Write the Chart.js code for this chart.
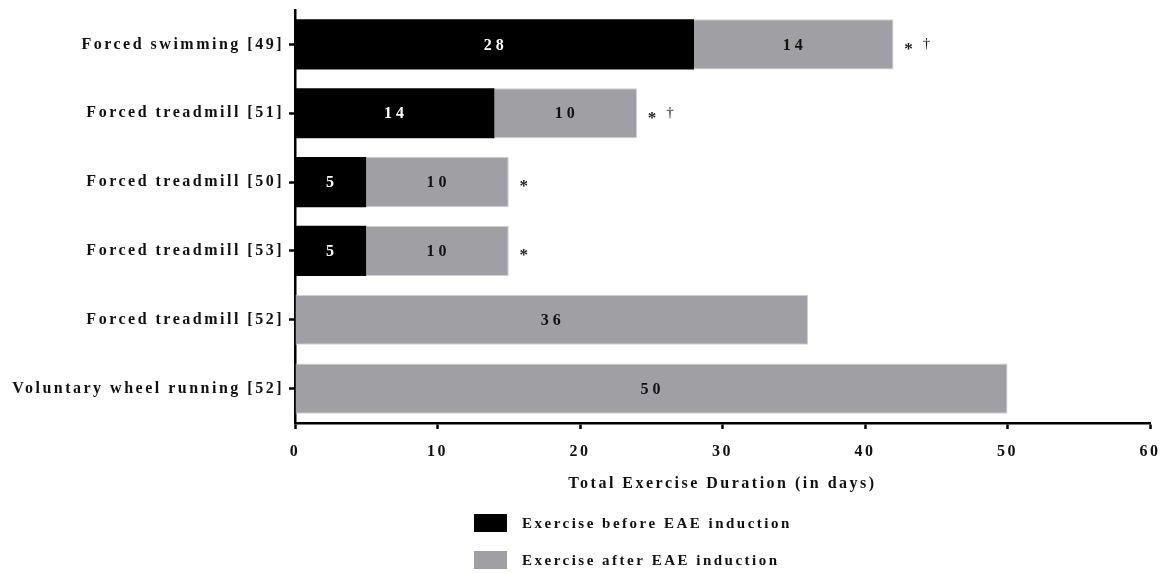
<!DOCTYPE html>
<html>
<head>
<meta charset="utf-8">
<script src="https://cdn.jsdelivr.net/npm/chart.js@4.4.1/dist/chart.umd.min.js"></script>
<style>
  html, body { margin: 0; padding: 0; background: #fff; }
  canvas { display: block; }
</style>
</head>
<body>
<canvas id="durationChart" width="1164" height="573"></canvas>
<script>
// Studies and how long the exercise lasted (days)
const studies = ['Forced swimming [49]', 'Forced treadmill [51]', 'Forced treadmill [50]',
  'Forced treadmill [53]', 'Forced treadmill [52]', 'Voluntary wheel running [52]'];
const daysBefore = [28, 14, 5, 5, 0, 0];
const daysAfter = [14, 10, 10, 10, 36, 50];
const asterisk = [true, true, true, true, false, false];
const dagger = [true, true, false, false, false, false];
const xTicks = [0, 10, 20, 30, 40, 50, 60];

const serif = '"Liberation Serif", "Times New Roman", serif';
const spacing = '2.5px';
const GREY = '#a09fa4';

// canvas text has no letter-spacing option in Chart.js, so set it on the context
const spacedText = {
  id: 'spacedText',
  beforeUpdate(chart) { chart.ctx.letterSpacing = spacing; },
  beforeDraw(chart) { chart.ctx.letterSpacing = spacing; }
};

// numbers in the middle of each segment
const segmentLabels = {
  id: 'segmentLabels',
  afterDatasetsDraw(chart) {
    const ctx = chart.ctx;
    ctx.save();
    ctx.letterSpacing = '4px';
    ctx.font = 'bold 16px ' + serif;
    ctx.textAlign = 'center';
    ctx.textBaseline = 'middle';
    chart.data.datasets.forEach((ds, i) => {
      chart.getDatasetMeta(i).data.forEach((bar, j) => {
        const v = ds.data[j];
        if (!v) return;
        const p = bar.getProps(['x', 'y', 'base'], true);
        ctx.fillStyle = i === 0 ? '#fff' : '#111';
        ctx.fillText(String(v), (p.x + p.base) / 2 + 1, p.y + 1);
      });
    });
    // significance marks after the end of each bar
    const last = chart.getDatasetMeta(chart.data.datasets.length - 1).data;
    ctx.letterSpacing = '0px';
    ctx.fillStyle = '#222';
    ctx.textAlign = 'center';
    last.forEach((bar, j) => {
      if (asterisk[j]) {
        ctx.font = 'bold 17px ' + serif;
        ctx.fillText('*', bar.x + 15, bar.y + 5);
      }
      if (dagger[j]) {
        ctx.font = '15px ' + serif;
        ctx.fillText('\u2020', bar.x + 33, bar.y);
      }
    });
    ctx.restore();
  }
};

// two-row legend under the axis title
const stackedLegend = {
  id: 'stackedLegend',
  afterDraw(chart) {
    const ctx = chart.ctx;
    const left = chart.chartArea.left + 179;
    ctx.save();
    ctx.letterSpacing = spacing;
    ctx.font = 'bold 15px ' + serif;
    ctx.textBaseline = 'middle';
    chart.data.datasets.forEach((ds, i) => {
      const cy = 523 + i * 37;
      ctx.fillStyle = ds.backgroundColor;
      ctx.fillRect(left, cy - 9, 33, 18);
      ctx.fillStyle = '#111';
      ctx.fillText(ds.label, left + 48, cy + 1);
    });
    ctx.restore();
  }
};

const ctx = document.getElementById('durationChart');
new Chart(ctx, {
  type: 'bar',
  data: {
    labels: studies,
    datasets: [
      { label: 'Exercise before EAE induction', data: daysBefore, backgroundColor: '#000000' },
      { label: 'Exercise after EAE induction', data: daysAfter, backgroundColor: GREY,
        borderColor: '#cfcfd2', borderWidth: 1, borderSkipped: 'left' }
    ]
  },
  options: {
    indexAxis: 'y',
    responsive: false,
    animation: false,
    categoryPercentage: 0.8,
    barPercentage: 0.91,
    layout: { padding: { top: 10, right: 14, bottom: 78, left: 0 } },
    plugins: {
      legend: { display: false },
      tooltip: { enabled: false }
    },
    scales: {
      x: {
        stacked: true,
        min: 0,
        max: 60,
        afterBuildTicks(scale) { scale.ticks = xTicks.map(v => ({ value: v })); },
        afterFit(scale) {
          scale.height = 72;
          scale.paddingLeft = 0;
          scale.paddingRight = 0;
        },
        border: { display: true, color: '#000', width: 2.5 },
        grid: { drawOnChartArea: false, tickLength: 6, tickWidth: 2.5, tickColor: '#000' },
        ticks: { color: '#111', padding: 13, font: { family: serif, size: 16, weight: 'bold' } },
        title: {
          display: true,
          text: 'Total Exercise Duration (in days)',
          color: '#111',
          padding: { top: 4, bottom: 2 },
          font: { family: serif, size: 16, weight: 'bold' }
        }
      },
      y: {
        stacked: true,
        afterFit(scale) {
          scale.width = 295;
          scale.paddingTop = 0;
          scale.paddingBottom = 0;
        },
        border: { display: true, color: '#000', width: 2.5 },
        grid: { offset: false, drawOnChartArea: false, tickLength: 6, tickWidth: 2.5, tickColor: '#000' },
        ticks: { color: '#111', padding: 5, font: { family: serif, size: 16, weight: 'bold' } }
      }
    }
  },
  plugins: [spacedText, segmentLabels, stackedLegend]
});
</script>
</body>
</html>
